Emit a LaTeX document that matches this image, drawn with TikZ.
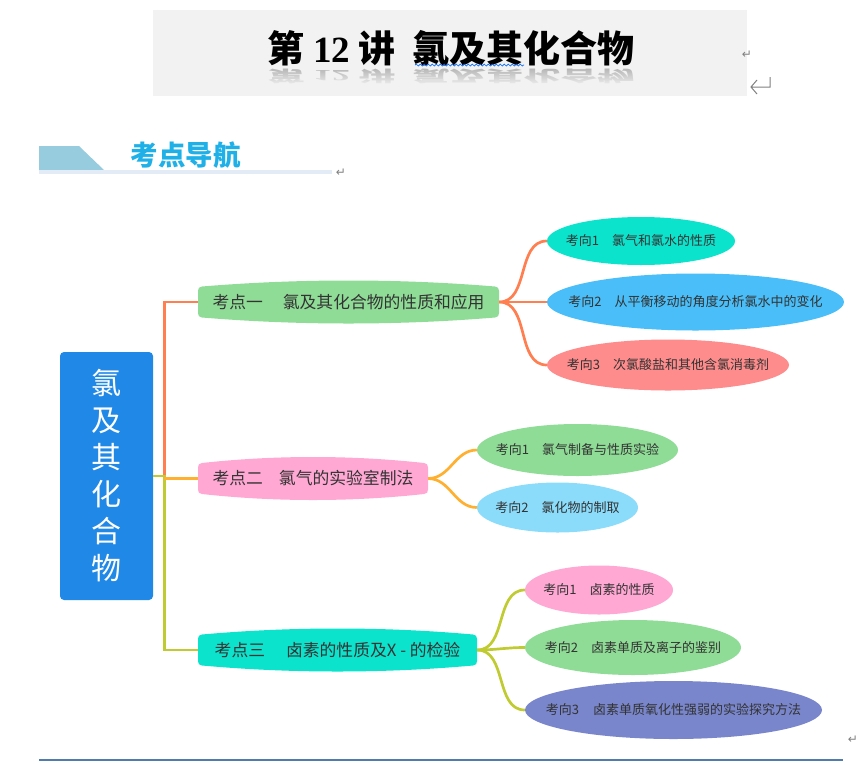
\documentclass[tikz,border=0pt]{standalone}
\usepackage{fontspec}
\setmainfont{Noto Sans CJK SC}
\newfontfamily\latinfont{Liberation Serif}
\newfontfamily\symfont{DejaVu Sans}
\usetikzlibrary{shapes.geometric,decorations.pathmorphing,fadings}
\definecolor{cgreen}{HTML}{8FDC96}
\definecolor{cpink}{HTML}{FFA8D3}
\definecolor{cteal}{HTML}{0CE3CC}
\definecolor{cblue}{HTML}{4ABEF8}
\definecolor{csky}{HTML}{8BDCFB}
\definecolor{cred}{HTML}{FF8C8C}
\definecolor{cindigo}{HTML}{7986CB}
\definecolor{corange}{HTML}{FF7F50}
\definecolor{cyellow}{HTML}{FFB030}
\definecolor{colive}{HTML}{BFCB30}
\definecolor{ctext}{HTML}{333333}
\definecolor{cwedge}{HTML}{97CCDF}
\definecolor{cbar}{HTML}{E3ECF6}
\definecolor{cguide}{HTML}{1FB0E8}
\definecolor{croot}{HTML}{2088E6}
\definecolor{cfoot}{HTML}{4F7CAC}
\newcommand{\topicshape}[4]{\fill[#4]({#1},{#3-11})..controls({#1},{#3-14})and({#1+1},{#3-15})..({#1+4},{#3-15.5})
    ..controls({#1+(#2-#1)/3},{#3-23.5})and({#2-(#2-#1)/3},{#3-23.5})..({#2-4},{#3-15.5})
    ..controls({#2-1},{#3-15})and({#2},{#3-14})..({#2},{#3-11})--({#2},{#3+11})
    ..controls({#2},{#3+14})and({#2-1},{#3+15})..({#2-4},{#3+15.5})
    ..controls({#2-(#2-#1)/3},{#3+23.5})and({#1+(#2-#1)/3},{#3+23.5})..({#1+4},{#3+15.5})
    ..controls({#1+1},{#3+15})and({#1},{#3+14})..({#1},{#3+11})--cycle;}
\newcommand{\subtext}[1]{\makebox[0pt]{#1}}
\newcommand{\titletext}{\fontsize{37}{40}\selectfont\bfseries 第 {\latinfont 12} 讲\ \ 氯及其化合物}
\tikzset{
    topic/.style={inner sep=0pt,minimum height=30pt,text=ctext,font=\fontsize{16.8}{19}\selectfont},
    sub/.style={ellipse,inner sep=0pt,text=ctext,font=\fontsize{13}{15}\selectfont},
    link/.style={line width=2.7pt},
    branch/.style={line width=2.7pt,out=0,in=180},
    retmark/.style={inner sep=0pt,text=gray,font=\symfont\fontsize{12}{12}\selectfont}
}
\begin{document}
\begin{tikzpicture}[x=1pt,y=-1pt]
    \useasboundingbox(0,0)rectangle(857,764);
    \fill[black!5](153,10)rectangle(747,96);
    \node[inner sep=0pt,text=black!30,yscale=-0.42,transform shape](reflect)at(451,76){\titletext};
    \fill[black!5,path fading=north](260,67)rectangle(640,86);
    \node[inner sep=0pt](title)at(451,48.5){\titletext};
    \draw[blue!60!cyan,line width=0.7pt,decorate,decoration={snake,amplitude=1pt,segment length=4pt}](415,65)--(524,65);
    \node[retmark](retA)at(747,55){↵};
    \draw[gray,line width=1pt](770,77)--(770,87)--(751,87)(757,80)--(751,87)--(757,94);
    \fill[cwedge](39,146)--(79,146)--(104,170)--(39,170)--cycle;
    \fill[cbar](39,170)rectangle(332,174);
    \node[inner sep=0pt,text=cguide,font=\fontsize{27.5}{29}\selectfont\bfseries](guide)at(185.5,155){考点导航};
    \node[retmark](retC)at(341,173){↵};
    \node[rectangle,rounded corners=4pt,fill=croot,minimum width=93pt,minimum height=248pt,inner sep=0pt,text=white,align=center,font=\fontsize{30}{37}\selectfont](root)at(106.5,476){氯\\及\\其\\化\\合\\物};
    \topicshape{198}{499}{302}{cgreen}
    \topicshape{198}{428}{478.5}{cpink}
    \topicshape{198}{477}{650}{cteal}
    \node[topic,minimum width=301pt](t1)at(348.5,302){考点一\hspace{20pt}氯及其化合物的性质和应用};
    \node[topic,minimum width=230pt](t2)at(313,478.5){考点二\hspace{16pt}氯气的实验室制法};
    \node[topic,minimum width=279pt](t3)at(337.5,650){考点三\hspace{21pt}卤素的性质及X\ - 的检验};
    \node[sub,fill=cteal,minimum width=188pt,minimum height=48pt](a1)at(641,241){\subtext{考向1\hspace{13pt}氯气和氯水的性质}};
    \node[sub,fill=cblue,minimum width=297pt,minimum height=57pt](a2)at(695.5,302){\subtext{考向2\hspace{13pt}从平衡移动的角度分析氯水中的变化}};
    \node[sub,fill=cred,minimum width=242pt,minimum height=51pt](a3)at(668,365){\subtext{考向3\hspace{13pt}次氯酸盐和其他含氯消毒剂}};
    \node[sub,fill=cgreen,minimum width=201pt,minimum height=52pt](b1)at(577.5,450){\subtext{考向1\hspace{13pt}氯气制备与性质实验}};
    \node[sub,fill=csky,minimum width=161pt,minimum height=50pt](b2)at(557.5,507.5){\subtext{考向2\hspace{13pt}氯化物的制取}};
    \node[sub,fill=cpink,minimum width=148pt,minimum height=49pt](c1)at(599,590){\subtext{考向1\hspace{13pt}卤素的性质}};
    \node[sub,fill=cgreen,minimum width=216pt,minimum height=55pt](c2)at(633,647.5){\subtext{考向2\hspace{13pt}卤素单质及离子的鉴别}};
    \node[sub,fill=cindigo,minimum width=297pt,minimum height=58pt](c3)at(673.5,710){\subtext{考向3\hspace{14pt}卤素单质氧化性强弱的实验探究方法}};
    \draw[link,corange](root.east)--++(11,0)|-(t1.west);
    \draw[link,colive](root.east)--++(11,0)|-(t3.west);
    \draw[link,cyellow](t2.west)--++(-34,0);
    \foreach \i in {a1,a2,a3}{\draw[branch,corange](t1.east)to(\i.west);}
    \foreach \i in {b1,b2}{\draw[branch,cyellow](t2.east)to(\i.west);}
    \foreach \i in {c1,c2,c3}{\draw[branch,colive](t3.east)to(\i.west);}
    \coordinate(footL)at(39,760);
    \coordinate(footR)at(843,760);
    \draw[line width=1.5pt,cfoot](footL)--(footR);
    \node[retmark](retD)at(853,740){↵};
\end{tikzpicture}
\end{document}
